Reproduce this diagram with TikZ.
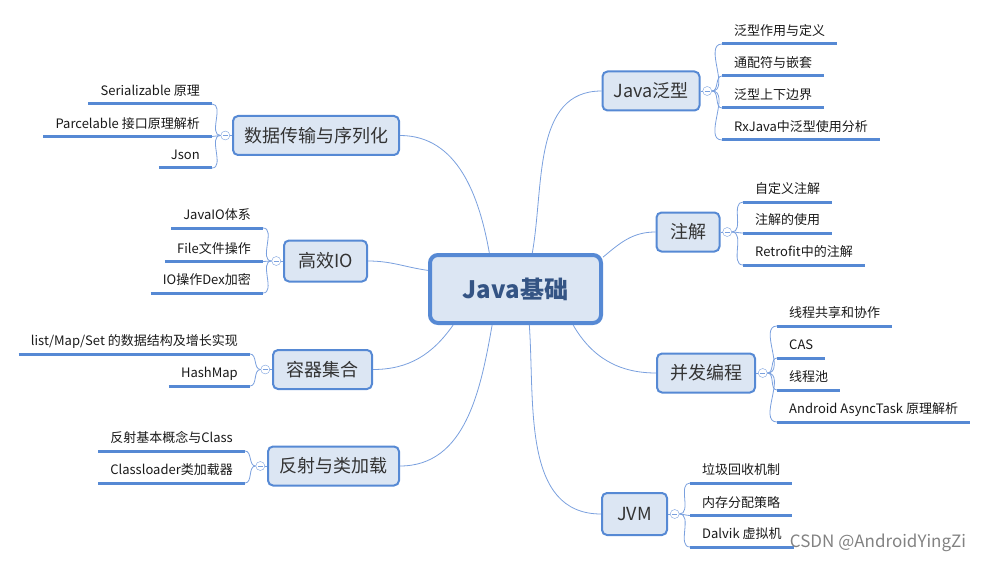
\documentclass[tikz,border=0pt]{standalone}
\usepackage{fontspec}
\setmainfont{Noto Sans CJK SC}
\usetikzlibrary{positioning}
\definecolor{boxfill}{RGB}{220,230,243}
\definecolor{boxline}{RGB}{86,137,212}
\definecolor{connline}{RGB}{122,160,222}
\definecolor{roottext}{RGB}{52,84,132}
\definecolor{marktext}{RGB}{130,130,130}

\begin{document}
\begin{tikzpicture}[
	x=1pt, y=-1pt,
	root/.style={ rectangle, rounded corners=8pt, draw=boxline, line width=4pt, fill=boxfill, minimum width=171pt, minimum height=68pt, font=\fontsize{24}{28}\selectfont\bfseries, text=roottext },
	topic/.style={ rectangle, rounded corners=5pt, draw=boxline, line width=2pt, fill=boxfill, minimum height=39pt, inner xsep=4pt, font=\fontsize{18}{22}\selectfont, text=black!80 },
	fold/.style={ circle, draw=connline, thin, fill=white, inner sep=0pt, minimum size=9pt,
		path picture={\draw[connline,thin] ([xshift=-2.5pt]path picture bounding box.center) -- ([xshift=2.5pt]path picture bounding box.center);} },
	leafr/.style={ anchor=south west, inner xsep=12pt, inner ysep=5pt, text height=10pt, text depth=3pt, font=\fontsize{13}{15}\selectfont, text=black!90 },
	leafl/.style={ anchor=south east, inner xsep=12pt, inner ysep=5pt, text height=10pt, text depth=3pt, font=\fontsize{13}{15}\selectfont, text=black!90 },
	uline/.style={ boxline, line width=3pt },
	conn/.style={ connline, line width=0.8pt }
]
\useasboundingbox (0,0) rectangle (992,564);

% centre and topics
\node at (515.5,289) (root) [root] {Java基础};

\node at (651,91) (java) [topic,minimum width=97pt] {Java泛型};
\node at (688,232) (anno) [topic,minimum width=63pt] {注解};
\node at (706,373) (conc) [topic,minimum width=98pt] {并发编程};
\node at (634.5,514) (jvm) [topic,minimum width=65pt,minimum height=42pt] {JVM};
\node at (316,135.5) (ser) [topic,minimum width=166pt] {数据传输与序列化};
\node at (325.5,261) (io) [topic,minimum width=83pt,minimum height=41pt] {高效IO};
\node at (322.5,369.5) (coll) [topic,minimum width=99pt] {容器集合};
\node at (333.5,466) (refl) [topic,minimum width=131pt] {反射与类加载};

\draw[conn] (root.65) to[out=80,in=180] (java.west);
\draw[conn] (root.20) to[out=40,in=180] (anno.west);
\draw[conn] (root.-32) to[out=-60,in=180] (conc.west);
\draw[conn] (root.-69) to[out=-86,in=180] (jvm.west);
\draw[conn] (root.126) to[out=100,in=0] (ser.east);
\draw[conn] (root.168) to[out=172,in=0] (io.east);
\draw[conn] (root.-150) to[out=-125,in=0] (coll.east);
\draw[conn] (root.-123) to[out=-100,in=0] (refl.east);

% fold marks
\node (fjava) [fold, right=2pt of java] {};
\node (fanno) [fold, right=2pt of anno] {};
\node (fconc) [fold, right=2pt of conc] {};
\node (fjvm) [fold, right=2pt of jvm] {};
\node (fser) [fold, left=2pt of ser] {};
\node (fio) [fold, left=2pt of io] {};
\node (fcoll) [fold, left=2pt of coll] {};
\node (frefl) [fold, left=2pt of refl] {};
\foreach \t in {java,anno,conc,jvm,ser,io,coll,refl}
	\draw[conn] (\t) -- (f\t);

% leaves, right side
\node at (722,44) (java1) [leafr] {泛型作用与定义};
\node at (722,76) (java2) [leafr] {通配符与嵌套};
\node at (722,108) (java3) [leafr] {泛型上下边界};
\node at (722,140) (java4) [leafr] {RxJava中泛型使用分析};
\node at (743,202) (anno1) [leafr] {自定义注解};
\node at (743,233) (anno2) [leafr] {注解的使用};
\node at (743,265) (anno3) [leafr] {Retrofit中的注解};
\node at (777,326) (conc1) [leafr] {线程共享和协作};
\node at (777,358) (conc2) [leafr] {CAS};
\node at (777,390) (conc3) [leafr] {线程池};
\node at (777,422) (conc4) [leafr] {Android AsyncTask 原理解析};
\node at (690,483) (jvm1) [leafr] {垃圾回收机制};
\node at (690,515.5) (jvm2) [leafr] {内存分配策略};
\node at (690,547) (jvm3) [leafr] {Dalvik 虚拟机};

% leaves, left side
\node at (212,104) (ser1) [leafl] {Serializable 原理};
\node at (212,136.5) (ser2) [leafl] {Parcelable 接口原理解析};
\node at (212,168) (ser3) [leafl] {Json};
\node at (263,228) (io1) [leafl] {JavaIO体系};
\node at (263,261.5) (io2) [leafl] {File文件操作};
\node at (263,293) (io3) [leafl] {IO操作Dex加密};
\node at (250,354) (coll1) [leafl] {list/Map/Set 的数据结构及增长实现};
\node at (250,386) (coll2) [leafl] {HashMap};
\node at (245,451) (refl1) [leafl] {反射基本概念与Class};
\node at (245,483) (refl2) [leafl] {Classloader类加载器};

\foreach \t/\l in {java/java1,java/java2,java/java3,java/java4,anno/anno1,anno/anno2,anno/anno3,
	conc/conc1,conc/conc2,conc/conc3,conc/conc4,jvm/jvm1,jvm/jvm2,jvm/jvm3}
	\draw[conn] (f\t.east) to[out=0,in=180] (\l.south west);
\foreach \t/\l in {ser/ser1,ser/ser2,ser/ser3,io/io1,io/io2,io/io3,coll/coll1,coll/coll2,refl/refl1,refl/refl2}
	\draw[conn] (f\t.west) to[out=180,in=0] (\l.south east);
\foreach \l in {java1,java2,java3,java4,anno1,anno2,anno3,conc1,conc2,conc3,conc4,jvm1,jvm2,jvm3,
	ser1,ser2,ser3,io1,io2,io3,coll1,coll2,refl1,refl2}
	\draw[uline] (\l.south west) -- (\l.south east);

% watermark
\node at (878,543) (mark) [font=\fontsize{17}{20}\selectfont, text=marktext] {CSDN @AndroidYingZi};

\end{tikzpicture}
\end{document}
